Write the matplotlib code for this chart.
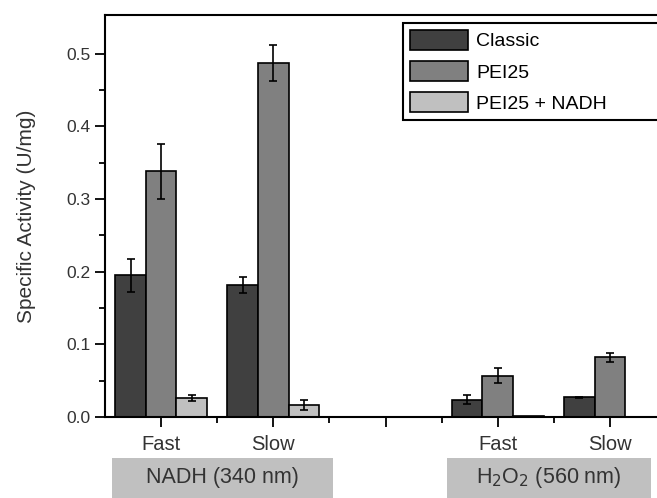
import numpy as np
import matplotlib.pyplot as plt
from matplotlib.patches import Rectangle

plt.rcParams['font.family'] = ['Liberation Sans', 'DejaVu Sans']

series = ["Classic", "PEI25", "PEI25 + NADH"]
colors = ["#404040", "#808080", "#c0c0c0"]
group_pos = [1, 3, 7, 9]
group_labels = ["Fast", "Slow", "Fast", "Slow"]

# values per series at Fast/Slow (NADH) and Fast/Slow (H2O2)
classic = [0.195, 0.181, 0.024, 0.027]
classic_err = [0.023, 0.011, 0.006, 0.001]
pei = [0.338, 0.487, 0.057, 0.082]
pei_err = [0.038, 0.025, 0.010, 0.006]
pei_nadh = [0.026, 0.016, 0.002, 0.0]
pei_nadh_err = [0.004, 0.007, 0.0, 0.0]

fig = plt.figure(figsize=(6.57, 4.98), dpi=100)
ax = fig.add_axes([105 / 657, 1 - 417 / 498, 561 / 657, 402 / 498])

w = 0.545
x = np.array(group_pos, dtype=float)
for i, (vals, errs) in enumerate([(classic, classic_err), (pei, pei_err), (pei_nadh, pei_nadh_err)]):
    ax.bar(x + (i - 1) * w, vals, w, color=colors[i], edgecolor="black", linewidth=1.2,
           label=series[i], zorder=2)
    e = np.array(errs)
    m = e > 0
    ax.errorbar((x + (i - 1) * w)[m], np.array(vals)[m], yerr=e[m], fmt="none",
                ecolor="black", elinewidth=1.2, capsize=3, capthick=1.2, zorder=3)

ax.set_xlim(0, 10)
ax.set_ylim(0, 0.553)
ax.set_yticks([0.0, 0.1, 0.2, 0.3, 0.4, 0.5])
ax.set_yticklabels(["0.0", "0.1", "0.2", "0.3", "0.4", "0.5"])
ax.set_yticks(np.arange(0.05, 0.55, 0.1), minor=True)
ax.set_xticks([1, 3, 5, 7, 9])
ax.set_xticklabels(["Fast", "Slow", "", "Fast", "Slow"])
ax.set_xticks([2, 4, 6, 8], minor=True)

ax.tick_params(axis="both", which="major", direction="out", length=7, width=1.3,
               labelsize=12.5, labelcolor="#333333")
ax.tick_params(axis="both", which="minor", direction="out", length=4, width=1.3)
ax.tick_params(axis="x", which="major", labelsize=14.5, pad=6)
for s in ["left", "bottom", "top"]:
    ax.spines[s].set_linewidth(1.5)
ax.spines["right"].set_visible(False)

ax.set_ylabel("Specific Activity (U/mg)", fontsize=15, color="#333333", labelpad=22)

leg = ax.legend(loc="upper left", bbox_to_anchor=(403 / 657, 1 - 23 / 498, 0.42, 0.0),
                bbox_transform=fig.transFigure, mode="expand", fontsize=14,
                handlelength=3.0, handleheight=1.2, handletextpad=0.4, labelspacing=0.55,
                borderpad=0.35, borderaxespad=0, fancybox=False, framealpha=1)
leg.get_frame().set_edgecolor("black")
leg.get_frame().set_linewidth(1.5)

# group boxes below the axis
for (x0, x1, label) in [(112, 333, "NADH (340 nm)"), (447, 651, "H$_2$O$_2$ (560 nm)")]:
    fig.patches.append(Rectangle((x0 / 657, 0), (x1 - x0) / 657, 40 / 498,
                                 transform=fig.transFigure, facecolor="#c0c0c0",
                                 edgecolor="none"))
    fig.text((x0 + x1) / 2 / 657, 1 - 477 / 498, label, ha="center", va="center",
             fontsize=15.5, color="#333333")

fig.savefig("out.png", dpi=100)
